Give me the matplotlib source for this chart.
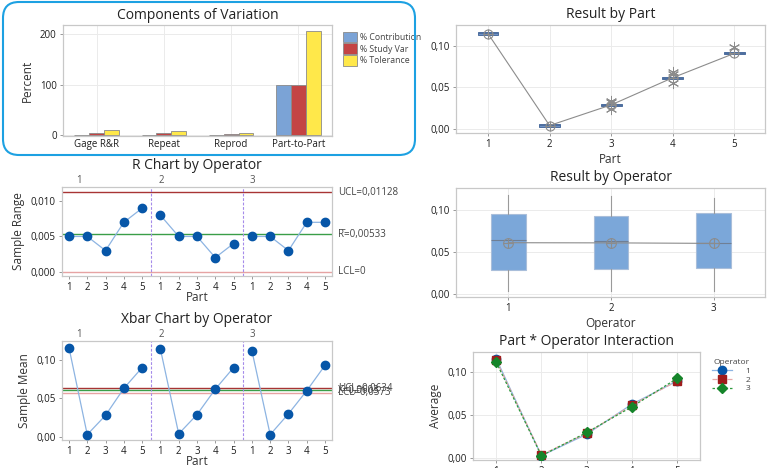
"""Gage R&R six-pack (Minitab style) recreated with matplotlib."""
import matplotlib; matplotlib.use('Agg')
import matplotlib.pyplot as plt
import matplotlib.transforms as mtrans
from matplotlib.patches import FancyBboxPatch
import numpy as np

plt.rcParams['font.family'] = ['Open Sans', 'DejaVu Sans']

W, H = 769, 468

# ----- data -----
components = ["Gage R&R", "Repeat", "Reprod", "Part-to-Part"]
pct_contribution = [0.5, 0.3, 0.1, 99.5]
pct_study_var = [5.5, 4.5, 2.5, 99.0]
pct_tolerance = [11.5, 9.5, 4.5, 207.0]

parts = [1, 2, 3, 4, 5]
operators = [1, 2, 3]

range_op1 = [0.005, 0.005, 0.003, 0.007, 0.009]
range_op2 = [0.008, 0.005, 0.005, 0.002, 0.004]
range_op3 = [0.005, 0.005, 0.003, 0.007, 0.007]
r_ucl, r_bar, r_lcl = 0.01128, 0.00533, 0.0

mean_op1 = [0.116, 0.003, 0.028, 0.063, 0.090]
mean_op2 = [0.114, 0.004, 0.029, 0.062, 0.090]
mean_op3 = [0.112, 0.003, 0.030, 0.060, 0.093]
x_ucl, x_bar, x_lcl = 0.0634, 0.0603, 0.0573

# Result by Part box statistics
part_q1 = [0.1128, 0.0028, 0.0276, 0.0600, 0.0900]
part_med = [0.1150, 0.0045, 0.0290, 0.0615, 0.0915]
part_q3 = [0.1168, 0.0060, 0.0300, 0.0627, 0.0927]
part_mean = [0.1148, 0.0042, 0.0290, 0.0617, 0.0910]
part_outliers = [[], [], [0.0245, 0.0340, 0.0320], [0.0555, 0.0685, 0.0660], [0.0990]]

# Result by Operator box statistics
op_lo = [0.0032, 0.0032, 0.0032]
op_q1 = [0.0282, 0.0290, 0.0302]
op_med = [0.0636, 0.0630, 0.0603]
op_q3 = [0.0949, 0.0921, 0.0961]
op_hi = [0.1175, 0.1167, 0.1139]
op_mean = [0.0607, 0.0605, 0.0599]

# ----- styling -----
TXT = '#333333'
SPINE = '#C8C8C8'
GRID = '#EBEBEB'
PT_BLUE = '#0656A8'
LN_BLUE = '#8DB4E2'
TITLE = dict(fontsize=10, color='#222222')


def rect(x0, y0, x1, y1):
    return [x0 / W, 1 - y1 / H, (x1 - x0) / W, (y1 - y0) / H]


def comma(v, nd):
    return f'{v:.{nd}f}'.replace('.', ',')


def style(ax, grid=True):
    for s in ax.spines.values():
        s.set_color(SPINE)
        s.set_linewidth(0.9)
    ax.tick_params(length=2.5, width=0.6, color='#888888', labelsize=7, labelcolor='#1E1E1E', pad=2)
    if grid:
        ax.grid(True, color=GRID, lw=0.7)
        ax.set_axisbelow(True)


fig = plt.figure(figsize=(W / 100, H / 100), dpi=100)

# ==================== Components of Variation ====================
ax1 = fig.add_axes(rect(63, 25, 332, 136))
style(ax1)
x = np.arange(len(components))
bw = 0.22
ax1.bar(x - bw, pct_contribution, bw, color='#7BA3D6', edgecolor='#8A8A8A', lw=0.6, label='% Contribution')
ax1.bar(x, pct_study_var, bw, color='#C44444', edgecolor='#8A8A8A', lw=0.6, label='% Study Var')
ax1.bar(x + bw, pct_tolerance, bw, color='#FFE84A', edgecolor='#8A8A8A', lw=0.6, label='% Tolerance')
ax1.set_xlim(-0.5, 3.5)
ax1.set_ylim(-1, 218)
ax1.set_yticks([0, 100, 200])
ax1.set_xticks(x)
ax1.set_xticklabels(components)
ax1.tick_params(axis='x', length=0)
ax1.set_ylabel('Percent', fontsize=8.5, color=TXT, labelpad=4)
ax1.set_title('Components of Variation', pad=4, **TITLE)
ax1.legend(loc='upper left', bbox_to_anchor=(1.01, 1.01), frameon=False, fontsize=6.3,
           handlelength=1.6, handleheight=1.5, handletextpad=0.4, labelspacing=0.1,
           labelcolor='#444444')

# ==================== R Chart / Xbar Chart ====================
def control_chart(ax, series, ucl, center, lcl, ylim, yticks, nd, title, ylabel, labels):
    style(ax, grid=False)
    vals = np.concatenate(series)
    idx = np.arange(1, len(vals) + 1)
    for k in range(len(series)):
        seg = slice(k * 5, k * 5 + 5)
        ax.plot(idx[seg], vals[seg], color=LN_BLUE, lw=0.9, zorder=2)
    ax.plot(idx, vals, 'o', color=PT_BLUE, ms=6, zorder=3)
    ax.axhline(ucl, color='#A83434', lw=1.0, zorder=1)
    ax.axhline(center, color='#3A9E48', lw=1.0, zorder=1)
    ax.axhline(lcl, color='#E6A3A3', lw=1.0, zorder=1)
    for b in (5.5, 10.5):
        ax.axvline(b, color='#A58BEA', lw=0.8, ls=(0, (2.5, 1.5)), zorder=1)
    ax.set_xlim(0.62, 15.38)
    ax.set_ylim(*ylim)
    ax.set_yticks(yticks)
    ax.set_yticklabels([comma(t, nd) for t in yticks])
    ax.set_xticks(idx)
    ax.set_xticklabels([str(p) for _ in series for p in parts])
    ax.tick_params(axis='x', pad=1.5)
    ax.set_xlabel('Part', fontsize=8.5, color=TXT, labelpad=-1)
    ax.set_ylabel(ylabel, fontsize=8.5, color=TXT, labelpad=4)
    ax.set_title(title, pad=13, **TITLE)
    for xo, op in zip((1.55, 6.05, 11.0), operators):
        ax.text(xo, 1.015, str(op), transform=ax.get_xaxis_transform(),
                fontsize=7, color='#555555', ha='center', va='bottom')
    tr = mtrans.blended_transform_factory(ax.transAxes, ax.transData)
    for yv, lab in zip((ucl, center, lcl), labels):
        ax.text(1.022, yv, lab, transform=tr, fontsize=7, color='#444444', ha='left', va='center')


ax2 = fig.add_axes(rect(62, 187, 332, 276))
control_chart(ax2, [range_op1, range_op2, range_op3], r_ucl, r_bar, r_lcl,
              (-0.0006, 0.012), [0.0, 0.005, 0.010], 3,
              'R Chart by Operator', 'Sample Range',
              [f'UCL={comma(r_ucl, 5)}', f'R\u0304={comma(r_bar, 5)}', f'LCL={comma(r_lcl, 0)}'])

ax3 = fig.add_axes(rect(62, 341, 332, 440))
control_chart(ax3, [mean_op1, mean_op2, mean_op3], x_ucl, x_bar, x_lcl,
              (-0.004, 0.1245), [0.0, 0.05, 0.10], 2,
              'Xbar Chart by Operator', 'Sample Mean',
              [f'UCL={comma(x_ucl, 4)}', f'X\u0304={comma(x_bar, 4)}', f'LCL={comma(x_lcl, 4)}'])

# ==================== Result by Part ====================
def mean_marks(ax, xs, ys, ms):
    ax.plot(xs, ys, color='#8C8C8C', lw=0.8, zorder=4)
    ax.plot(xs, ys, 'o', mfc='none', mec='#8C8C8C', ms=ms, mew=0.8, zorder=5)
    ax.plot(xs, ys, '+', color='#8C8C8C', ms=ms, mew=0.8, zorder=5)


ax4 = fig.add_axes(rect(456, 25, 765, 133))
style(ax4)
stats = [dict(whislo=q1, q1=q1, med=m, q3=q3, whishi=q3, fliers=[])
         for q1, m, q3 in zip(part_q1, part_med, part_q3)]
ax4.bxp(stats, positions=parts, widths=0.34, patch_artist=True, showfliers=False, showcaps=False,
        boxprops=dict(facecolor='#6E92C6', edgecolor='#4D6E9E', lw=0.7),
        medianprops=dict(color='#4D6E9E', lw=0.7),
        whiskerprops=dict(color='#4D6E9E', lw=0.7))
mean_marks(ax4, parts, part_mean, 6.5)
for p, outs in zip(parts, part_outliers):
    if outs:
        ax4.plot([p] * len(outs), outs, marker=(6, 2, 0), ls='none', color='#8C8C8C',
                 ms=8, mew=0.7, zorder=5)
ax4.set_xlim(0.48, 5.5)
ax4.set_ylim(-0.0048, 0.1252)
ax4.set_yticks([0.0, 0.05, 0.10])
ax4.set_yticklabels([comma(t, 2) for t in (0.0, 0.05, 0.10)])
ax4.set_xticks(parts)
ax4.set_xlabel('Part', fontsize=8.5, color=TXT, labelpad=2)
ax4.set_title('Result by Part', pad=5, **TITLE)

# ==================== Result by Operator ====================
ax5 = fig.add_axes(rect(456, 188, 765, 297))
style(ax5)
stats = [dict(whislo=lo, q1=q1, med=m, q3=q3, whishi=hi, fliers=[])
         for lo, q1, m, q3, hi in zip(op_lo, op_q1, op_med, op_q3, op_hi)]
ax5.bxp(stats, positions=operators, widths=0.34, patch_artist=True, showfliers=False, showcaps=False,
        boxprops=dict(facecolor='#7BA7D9', edgecolor='#A9BEDA', lw=0.8),
        medianprops=dict(color='#6F7F95', lw=0.8),
        whiskerprops=dict(color='#9A9A9A', lw=0.8))
mean_marks(ax5, operators, op_mean, 7)
ax5.set_xlim(0.49, 3.5)
ax5.set_ylim(-0.0039, 0.1258)
ax5.set_yticks([0.0, 0.05, 0.10])
ax5.set_yticklabels([comma(t, 2) for t in (0.0, 0.05, 0.10)])
ax5.set_xticks(operators)
ax5.set_xlabel('Operator', fontsize=8.5, color=TXT, labelpad=2)
ax5.set_title('Result by Operator', pad=5, **TITLE)

# ==================== Part * Operator Interaction ====================
ax6 = fig.add_axes(rect(473, 352, 700, 460))
style(ax6)
ax6.plot(parts, mean_op1, color=LN_BLUE, lw=0.9, marker='o', mfc=PT_BLUE, mec=PT_BLUE, ms=6, label='1', zorder=3)
ax6.plot(parts, mean_op2, color='#E8A8A8', lw=0.9, ls=(0, (4, 2)), marker='s', mfc='#9E1C1C',
         mec='#9E1C1C', ms=6, label='2', zorder=4)
ax6.plot(parts, mean_op3, color='#2E9A3E', lw=0.9, ls=(0, (2, 1.5)), marker='D', mfc='#15852A',
         mec='#15852A', ms=5, label='3', zorder=5)
ax6.set_xlim(0.49, 5.5)
ax6.set_ylim(-0.002, 0.1236)
ax6.set_yticks([0.0, 0.05, 0.10])
ax6.set_yticklabels([comma(t, 2) for t in (0.0, 0.05, 0.10)])
ax6.set_xticks(parts)
ax6.set_ylabel('Average', fontsize=8.5, color=TXT, labelpad=4)
ax6.set_title('Part * Operator Interaction', pad=5, **TITLE)
leg = ax6.legend(loc='upper left', bbox_to_anchor=(1.02, 1.0), frameon=False, fontsize=6,
                 title='Operator', title_fontsize=6, markerfirst=True, handlelength=2.4,
                 handletextpad=1.6, labelspacing=0.1, alignment='right')
for t in leg.get_texts():
    t.set_color('#444444')
leg.get_title().set_color('#444444')

# ----- rounded highlight box round the first panel -----
box = FancyBboxPatch((3, H - 155), 412, 153, boxstyle='round,pad=0,rounding_size=16',
                     transform=mtrans.IdentityTransform(), fill=False,
                     edgecolor='#1DA1E2', lw=1.5)
fig.add_artist(box)

fig.savefig('out.png', dpi=100)
plt.close(fig)
